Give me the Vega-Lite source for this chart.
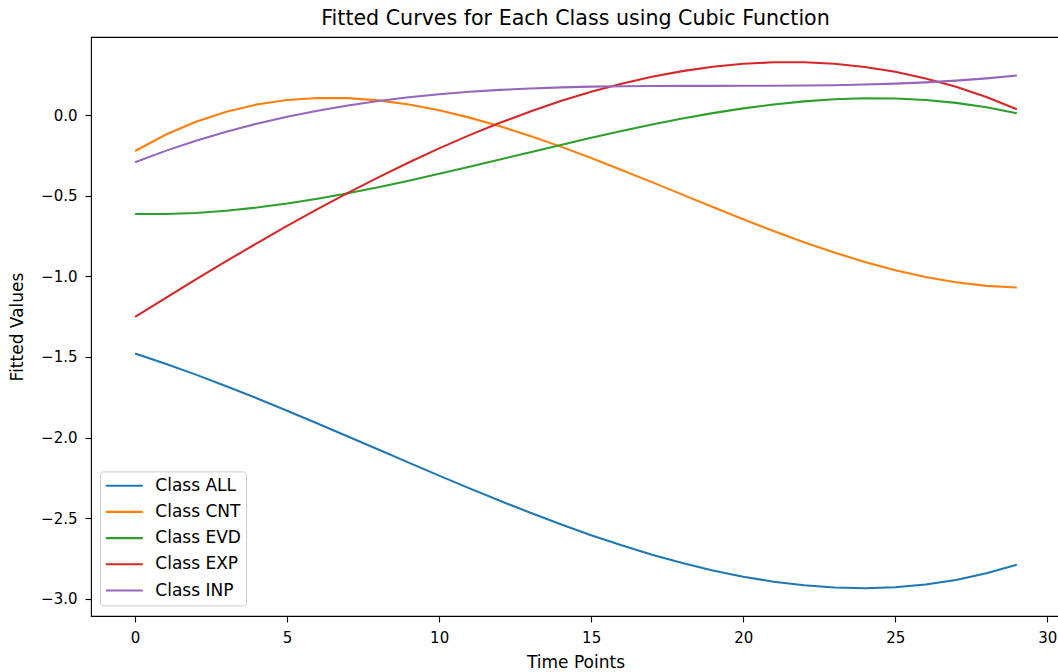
{
  "$schema": "https://vega.github.io/schema/vega-lite/v6.json",
  "autosize": {"type": "none"},
  "padding": {"left": 91, "top": 37, "right": 0, "bottom": 56},
  "width": 969,
  "height": 579,
  "background": "white",
  "title": {
    "text": "Fitted Curves for Each Class using Cubic Function",
    "fontSize": 20.6,
    "fontWeight": "normal",
    "font": "DejaVu Sans",
    "color": "black",
    "anchor": "middle",
    "baseline": "alphabetic",
    "offset": -9
  },
  "config": {
    "font": "DejaVu Sans",
    "view": {"stroke": "black", "strokeWidth": 1.1},
    "axis": {
      "domain": false,
      "grid": false,
      "ticks": true,
      "tickColor": "black",
      "tickWidth": 1.1,
      "tickSize": 6,
      "labelFontSize": 15,
      "labelColor": "black",
      "labelFont": "DejaVu Sans",
      "titleFont": "DejaVu Sans",
      "titleFontSize": 17,
      "titleFontWeight": "normal",
      "titleColor": "black"
    }
  },
  "data": {
    "values": [
      {"time": 0, "cls": "Class ALL", "value": -1.478},
      {"time": 1, "cls": "Class ALL", "value": -1.5416},
      {"time": 2, "cls": "Class ALL", "value": -1.6095},
      {"time": 3, "cls": "Class ALL", "value": -1.6813},
      {"time": 4, "cls": "Class ALL", "value": -1.7562},
      {"time": 5, "cls": "Class ALL", "value": -1.8336},
      {"time": 6, "cls": "Class ALL", "value": -1.9129},
      {"time": 7, "cls": "Class ALL", "value": -1.9934},
      {"time": 8, "cls": "Class ALL", "value": -2.0745},
      {"time": 9, "cls": "Class ALL", "value": -2.1556},
      {"time": 10, "cls": "Class ALL", "value": -2.236},
      {"time": 11, "cls": "Class ALL", "value": -2.3151},
      {"time": 12, "cls": "Class ALL", "value": -2.3923},
      {"time": 13, "cls": "Class ALL", "value": -2.4668},
      {"time": 14, "cls": "Class ALL", "value": -2.5382},
      {"time": 15, "cls": "Class ALL", "value": -2.6057},
      {"time": 16, "cls": "Class ALL", "value": -2.6687},
      {"time": 17, "cls": "Class ALL", "value": -2.7265},
      {"time": 18, "cls": "Class ALL", "value": -2.7786},
      {"time": 19, "cls": "Class ALL", "value": -2.8243},
      {"time": 20, "cls": "Class ALL", "value": -2.863},
      {"time": 21, "cls": "Class ALL", "value": -2.894},
      {"time": 22, "cls": "Class ALL", "value": -2.9167},
      {"time": 23, "cls": "Class ALL", "value": -2.9304},
      {"time": 24, "cls": "Class ALL", "value": -2.9345},
      {"time": 25, "cls": "Class ALL", "value": -2.9284},
      {"time": 26, "cls": "Class ALL", "value": -2.9115},
      {"time": 27, "cls": "Class ALL", "value": -2.8831},
      {"time": 28, "cls": "Class ALL", "value": -2.8425},
      {"time": 29, "cls": "Class ALL", "value": -2.7891},
      {"time": 0, "cls": "Class CNT", "value": -0.222},
      {"time": 1, "cls": "Class CNT", "value": -0.1213},
      {"time": 2, "cls": "Class CNT", "value": -0.0406},
      {"time": 3, "cls": "Class CNT", "value": 0.0214},
      {"time": 4, "cls": "Class CNT", "value": 0.0659},
      {"time": 5, "cls": "Class CNT", "value": 0.094},
      {"time": 6, "cls": "Class CNT", "value": 0.1068},
      {"time": 7, "cls": "Class CNT", "value": 0.1057},
      {"time": 8, "cls": "Class CNT", "value": 0.0918},
      {"time": 9, "cls": "Class CNT", "value": 0.0662},
      {"time": 10, "cls": "Class CNT", "value": 0.0301},
      {"time": 11, "cls": "Class CNT", "value": -0.0152},
      {"time": 12, "cls": "Class CNT", "value": -0.0687},
      {"time": 13, "cls": "Class CNT", "value": -0.129},
      {"time": 14, "cls": "Class CNT", "value": -0.195},
      {"time": 15, "cls": "Class CNT", "value": -0.2657},
      {"time": 16, "cls": "Class CNT", "value": -0.3396},
      {"time": 17, "cls": "Class CNT", "value": -0.4154},
      {"time": 18, "cls": "Class CNT", "value": -0.4929},
      {"time": 19, "cls": "Class CNT", "value": -0.5699},
      {"time": 20, "cls": "Class CNT", "value": -0.6455},
      {"time": 21, "cls": "Class CNT", "value": -0.7186},
      {"time": 22, "cls": "Class CNT", "value": -0.7878},
      {"time": 23, "cls": "Class CNT", "value": -0.8522},
      {"time": 24, "cls": "Class CNT", "value": -0.9105},
      {"time": 25, "cls": "Class CNT", "value": -0.9615},
      {"time": 26, "cls": "Class CNT", "value": -1.004},
      {"time": 27, "cls": "Class CNT", "value": -1.0369},
      {"time": 28, "cls": "Class CNT", "value": -1.059},
      {"time": 29, "cls": "Class CNT", "value": -1.069},
      {"time": 0, "cls": "Class EVD", "value": -0.613},
      {"time": 1, "cls": "Class EVD", "value": -0.6134},
      {"time": 2, "cls": "Class EVD", "value": -0.6064},
      {"time": 3, "cls": "Class EVD", "value": -0.5928},
      {"time": 4, "cls": "Class EVD", "value": -0.5731},
      {"time": 5, "cls": "Class EVD", "value": -0.548},
      {"time": 6, "cls": "Class EVD", "value": -0.5181},
      {"time": 7, "cls": "Class EVD", "value": -0.4841},
      {"time": 8, "cls": "Class EVD", "value": -0.4467},
      {"time": 9, "cls": "Class EVD", "value": -0.4063},
      {"time": 10, "cls": "Class EVD", "value": -0.3638},
      {"time": 11, "cls": "Class EVD", "value": -0.3197},
      {"time": 12, "cls": "Class EVD", "value": -0.2746},
      {"time": 13, "cls": "Class EVD", "value": -0.2293},
      {"time": 14, "cls": "Class EVD", "value": -0.1844},
      {"time": 15, "cls": "Class EVD", "value": -0.1404},
      {"time": 16, "cls": "Class EVD", "value": -0.0981},
      {"time": 17, "cls": "Class EVD", "value": -0.0582},
      {"time": 18, "cls": "Class EVD", "value": -0.0209},
      {"time": 19, "cls": "Class EVD", "value": 0.0127},
      {"time": 20, "cls": "Class EVD", "value": 0.0421},
      {"time": 21, "cls": "Class EVD", "value": 0.0667},
      {"time": 22, "cls": "Class EVD", "value": 0.0857},
      {"time": 23, "cls": "Class EVD", "value": 0.0987},
      {"time": 24, "cls": "Class EVD", "value": 0.1049},
      {"time": 25, "cls": "Class EVD", "value": 0.1037},
      {"time": 26, "cls": "Class EVD", "value": 0.0944},
      {"time": 27, "cls": "Class EVD", "value": 0.0765},
      {"time": 28, "cls": "Class EVD", "value": 0.0492},
      {"time": 29, "cls": "Class EVD", "value": 0.012},
      {"time": 0, "cls": "Class EXP", "value": -1.252},
      {"time": 1, "cls": "Class EXP", "value": -1.1346},
      {"time": 2, "cls": "Class EXP", "value": -1.019},
      {"time": 3, "cls": "Class EXP", "value": -0.9056},
      {"time": 4, "cls": "Class EXP", "value": -0.7949},
      {"time": 5, "cls": "Class EXP", "value": -0.6871},
      {"time": 6, "cls": "Class EXP", "value": -0.5827},
      {"time": 7, "cls": "Class EXP", "value": -0.482},
      {"time": 8, "cls": "Class EXP", "value": -0.3854},
      {"time": 9, "cls": "Class EXP", "value": -0.2933},
      {"time": 10, "cls": "Class EXP", "value": -0.206},
      {"time": 11, "cls": "Class EXP", "value": -0.1239},
      {"time": 12, "cls": "Class EXP", "value": -0.0474},
      {"time": 13, "cls": "Class EXP", "value": 0.0231},
      {"time": 14, "cls": "Class EXP", "value": 0.0873},
      {"time": 15, "cls": "Class EXP", "value": 0.1448},
      {"time": 16, "cls": "Class EXP", "value": 0.1952},
      {"time": 17, "cls": "Class EXP", "value": 0.238},
      {"time": 18, "cls": "Class EXP", "value": 0.2733},
      {"time": 19, "cls": "Class EXP", "value": 0.3002},
      {"time": 20, "cls": "Class EXP", "value": 0.3186},
      {"time": 21, "cls": "Class EXP", "value": 0.3281},
      {"time": 22, "cls": "Class EXP", "value": 0.3282},
      {"time": 23, "cls": "Class EXP", "value": 0.3186},
      {"time": 24, "cls": "Class EXP", "value": 0.299},
      {"time": 25, "cls": "Class EXP", "value": 0.269},
      {"time": 26, "cls": "Class EXP", "value": 0.2281},
      {"time": 27, "cls": "Class EXP", "value": 0.1761},
      {"time": 28, "cls": "Class EXP", "value": 0.1125},
      {"time": 29, "cls": "Class EXP", "value": 0.037},
      {"time": 0, "cls": "Class INP", "value": -0.2916},
      {"time": 1, "cls": "Class INP", "value": -0.2214},
      {"time": 2, "cls": "Class INP", "value": -0.1586},
      {"time": 3, "cls": "Class INP", "value": -0.1026},
      {"time": 4, "cls": "Class INP", "value": -0.0532},
      {"time": 5, "cls": "Class INP", "value": -0.0098},
      {"time": 6, "cls": "Class INP", "value": 0.0278},
      {"time": 7, "cls": "Class INP", "value": 0.0602},
      {"time": 8, "cls": "Class INP", "value": 0.0877},
      {"time": 9, "cls": "Class INP", "value": 0.1107},
      {"time": 10, "cls": "Class INP", "value": 0.1296},
      {"time": 11, "cls": "Class INP", "value": 0.1448},
      {"time": 12, "cls": "Class INP", "value": 0.1568},
      {"time": 13, "cls": "Class INP", "value": 0.1658},
      {"time": 14, "cls": "Class INP", "value": 0.1724},
      {"time": 15, "cls": "Class INP", "value": 0.1769},
      {"time": 16, "cls": "Class INP", "value": 0.1797},
      {"time": 17, "cls": "Class INP", "value": 0.1812},
      {"time": 18, "cls": "Class INP", "value": 0.1818},
      {"time": 19, "cls": "Class INP", "value": 0.182},
      {"time": 20, "cls": "Class INP", "value": 0.1821},
      {"time": 21, "cls": "Class INP", "value": 0.1825},
      {"time": 22, "cls": "Class INP", "value": 0.1837},
      {"time": 23, "cls": "Class INP", "value": 0.186},
      {"time": 24, "cls": "Class INP", "value": 0.1898},
      {"time": 25, "cls": "Class INP", "value": 0.1956},
      {"time": 26, "cls": "Class INP", "value": 0.2036},
      {"time": 27, "cls": "Class INP", "value": 0.2145},
      {"time": 28, "cls": "Class INP", "value": 0.2284},
      {"time": 29, "cls": "Class INP", "value": 0.2459}
    ]
  },
  "mark": {"type": "line", "strokeWidth": 2.08, "interpolate": "linear"},
  "encoding": {
    "x": {
      "field": "time",
      "type": "quantitative",
      "title": "Time Points",
      "scale": {"domain": [-1.45, 30.42], "nice": false, "zero": false},
      "axis": {"values": [0, 5, 10, 15, 20, 25, 30], "format": "d", "labelPadding": 8, "titlePadding": 9.5}
    },
    "y": {
      "field": "value",
      "type": "quantitative",
      "title": "Fitted Values",
      "scale": {"domain": [-3.107, 0.485], "nice": false, "zero": false},
      "axis": {"values": [-3, -2.5, -2, -1.5, -1, -0.5, 0], "format": ".1f", "labelPadding": 8, "titlePadding": 14}
    },
    "color": {
      "field": "cls",
      "type": "nominal",
      "scale": {
        "domain": ["Class ALL", "Class CNT", "Class EVD", "Class EXP", "Class INP"],
        "range": ["#1f77b4", "#ff7f0e", "#2ca02c", "#d62728", "#9467bd"]
      },
      "legend": {
        "title": null,
        "orient": "none",
        "legendX": 9,
        "legendY": 434.4,
        "symbolType": "stroke",
        "symbolSize": 1369,
        "symbolStrokeWidth": 2.08,
        "clipHeight": 20,
        "rowPadding": 6.2,
        "padding": 4.3,
        "labelOffset": 11,
        "labelFontSize": 17,
        "labelFont": "DejaVu Sans",
        "labelColor": "black",
        "fillColor": "rgba(255,255,255,0.8)",
        "strokeColor": "#cccccc",
        "cornerRadius": 3
      }
    }
  }
}
